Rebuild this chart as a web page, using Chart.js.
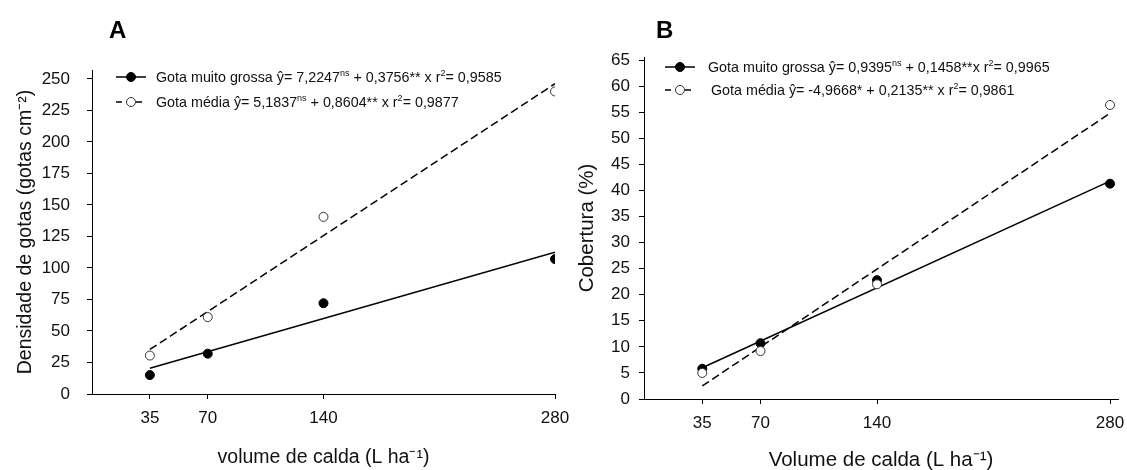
<!DOCTYPE html>
<html>
<head>
<meta charset="utf-8">
<script src="https://cdn.jsdelivr.net/npm/chart.js@4"></script>
<style>
  body { margin: 0; background: #fff; width: 1127px; height: 470px; overflow: hidden; position: relative; }
  canvas { position: absolute; top: 0; }
  #chartA { left: 0; }
  #chartB { left: 565px; }
  .leg {
    position: absolute; white-space: nowrap; color: #111;
    font-family: "Liberation Sans", Arial, sans-serif; font-size: 14.3px; line-height: 16px;
  }
  .leg sup { font-size: 9px; line-height: 0; vertical-align: 6px; }
</style>
</head>
<body>
<canvas id="chartA" width="570" height="470"></canvas>
<canvas id="chartB" width="562" height="470"></canvas>
<script>
// volume de calda (L/ha)
const volumes = [35, 70, 140, 280];
const fitX = [35, 280];

// A - densidade de gotas
const densGrossa = [15, 32, 72, 107];
const densMedia = [30.5, 61, 140.5, 240];
const densFitGrossa = [20.4, 112.4];
const densFitMedia = [35.3, 246.1];

// B - cobertura (%)
const cobGrossa = [5.8, 10.7, 22.8, 41.3];
const cobMedia = [5.0, 9.2, 22.0, 56.4];
const cobFitGrossa = [6.0, 41.8];
const cobFitMedia = [2.5, 54.8];

const legendA = [
  'Gota muito grossa ŷ= 7,2247<sup>ns</sup> + 0,3756** x r<sup>2</sup>= 0,9585',
  'Gota média ŷ= 5,1837<sup>ns</sup> + 0,8604** x r<sup>2</sup>= 0,9877'
];
const legendB = [
  'Gota muito grossa ŷ= 0,9395<sup>ns</sup> + 0,1458**x r<sup>2</sup>= 0,9965',
  'Gota média ŷ= -4,9668* + 0,2135** x r<sup>2</sup>= 0,9861'
];

const FONT = '"Liberation Sans", Arial, sans-serif';
Chart.defaults.font.family = FONT;
Chart.defaults.color = '#111';

const pts = (xs, ys) => xs.map((x, i) => ({ x, y: ys[i] }));

function drawMarker(ctx, x, y, filled) {
  ctx.setLineDash([]);
  ctx.beginPath();
  ctx.arc(x, y, 4.5, 0, Math.PI * 2);
  ctx.fillStyle = filled ? '#000' : '#fff';
  ctx.fill();
  ctx.lineWidth = 1;
  ctx.strokeStyle = filled ? '#000' : '#333';
  ctx.stroke();
}

// letra do painel + amostras da legenda (o texto vai em html por causa dos expoentes)
const insideLegend = {
  id: 'insideLegend',
  afterDraw(chart, args, o) {
    const ctx = chart.ctx;
    const area = chart.chartArea;
    ctx.save();
    ctx.fillStyle = '#000';
    ctx.textAlign = 'left';
    ctx.textBaseline = 'alphabetic';
    ctx.font = 'bold 24px ' + FONT;
    ctx.fillText(o.letter, o.letterX, o.letterY);

    o.rows.forEach((row, i) => {
      const y = area.top + o.top + i * o.rowGap;
      const x = area.left + o.left;
      ctx.strokeStyle = '#000';
      ctx.lineWidth = 1.5;
      ctx.setLineDash(row.dash);
      ctx.beginPath();
      ctx.moveTo(x, y);
      ctx.lineTo(x + o.sample, y);
      ctx.stroke();
      drawMarker(ctx, x + o.sample / 2, y, row.filled);
    });
    ctx.restore();
  }
};

function placeLegendText(chart, canvasLeft, o) {
  const area = chart.chartArea;
  o.rows.forEach((row, i) => {
    const d = document.createElement('div');
    d.className = 'leg';
    d.innerHTML = row.text;
    d.style.left = (canvasLeft + area.left + o.left + o.sample + o.gap + (row.shift || 0)) + 'px';
    d.style.top = (area.top + o.top + i * o.rowGap - 8) + 'px';
    document.body.appendChild(d);
  });
}

function makeChart(id, cfg) {
  const lineDs = (data, dash, order) => ({
    data, showLine: true, borderColor: '#000', borderWidth: 1.5,
    borderDash: dash, pointRadius: 0, fill: false, order
  });
  const pointDs = (data, filled, order) => ({
    data, showLine: false, pointRadius: 4.5, pointHoverRadius: 4.5,
    backgroundColor: filled ? '#000' : '#fff',
    borderColor: filled ? '#000' : '#333', borderWidth: 1, order
  });

  const chart = new Chart(document.getElementById(id), {
    type: 'scatter',
    data: {
      datasets: [
        lineDs(pts(fitX, cfg.fitMedia), [8, 4], 4),
        lineDs(pts(fitX, cfg.fitGrossa), [], 3),
        pointDs(pts(volumes, cfg.grossa), true, 2),
        pointDs(pts(volumes, cfg.media), false, 1)
      ]
    },
    options: {
      responsive: false,
      animation: false,
      layout: { padding: cfg.padding },
      plugins: {
        legend: { display: false },
        tooltip: { enabled: false },
        insideLegend: cfg.legend
      },
      scales: {
        x: {
          type: 'linear',
          min: 0,
          max: cfg.xMax,
          afterBuildTicks: s => { s.ticks = volumes.map(v => ({ value: v })); },
          afterFit: s => { s.height = cfg.xHeight; s.paddingLeft = 0; s.paddingRight = 0; },
          grid: { drawOnChartArea: false, drawTicks: true, tickLength: 5, color: '#000' },
          border: { color: '#000', width: 1 },
          ticks: { font: { size: 17 }, padding: 9, color: '#111', maxRotation: 0 },
          title: {
            display: true, text: cfg.xTitle, color: '#111',
            font: { size: cfg.titleSize, lineHeight: 1 }, padding: { top: 0, bottom: cfg.xTitlePad }
          }
        },
        y: {
          min: 0,
          max: cfg.yMax,
          afterFit: s => { s.width = cfg.yWidth; s.paddingTop = 0; s.paddingBottom = 0; },
          grid: { drawOnChartArea: false, drawTicks: true, tickLength: 5, color: '#000' },
          border: { color: '#000', width: 1 },
          ticks: { stepSize: cfg.yStep, includeBounds: false, font: { size: 17 }, padding: cfg.yTickPad, color: '#111' },
          title: {
            display: true, text: cfg.yTitle, color: '#111',
            font: { size: cfg.titleSize, lineHeight: 1 }, padding: { top: cfg.yTitlePad, bottom: 0 }
          }
        }
      }
    },
    plugins: [insideLegend]
  });
  placeLegendText(chart, cfg.canvasLeft, cfg.legend);
  return chart;
}

makeChart('chartA', {
  grossa: densGrossa, media: densMedia,
  fitGrossa: densFitGrossa, fitMedia: densFitMedia,
  xMax: 280, yMax: 257, yStep: 25,
  xHeight: 76, yWidth: 92, canvasLeft: 0, yTickPad: 17, titleSize: 19.5,
  xTitle: 'volume de calda (L ha⁻¹)',
  yTitle: 'Densidade de gotas (gotas cm⁻²)',
  xTitlePad: 3, yTitlePad: 16,
  padding: { top: 70, right: 15, bottom: 0, left: 0 },
  legend: {
    letter: 'A', letterX: 109, letterY: 38,
    left: 24, top: 7, rowGap: 25, sample: 30, gap: 10,
    rows: [
      { text: legendA[0], dash: [], filled: true },
      { text: legendA[1], dash: [6, 4], filled: false }
    ]
  }
});

makeChart('chartB', {
  grossa: cobGrossa, media: cobMedia,
  fitGrossa: cobFitGrossa, fitMedia: cobFitMedia,
  xMax: 284.8, yMax: 65.6, yStep: 5,
  xHeight: 71, yWidth: 79, canvasLeft: 565, yTickPad: 9, titleSize: 20.5,
  xTitle: 'Volume de calda (L ha⁻¹)',
  yTitle: 'Cobertura (%)',
  xTitlePad: -1, yTitlePad: 12,
  padding: { top: 57, right: 9, bottom: 0, left: 0 },
  legend: {
    letter: 'B', letterX: 91, letterY: 38,
    left: 21, top: 10, rowGap: 23, sample: 30, gap: 13,
    rows: [
      { text: legendB[0], dash: [], filled: true },
      { text: legendB[1], dash: [6, 4], filled: false, shift: 3 }
    ]
  }
});
</script>
</body>
</html>
